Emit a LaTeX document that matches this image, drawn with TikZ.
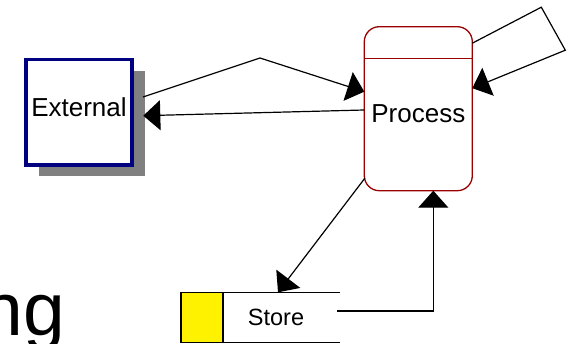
\documentclass[tikz,border=0pt]{standalone}
\usepackage{fontspec}
\setmainfont{Liberation Sans}
\usetikzlibrary{arrows.meta,calc,shadows}
\definecolor{ExtBlue}{HTML}{000080}
\definecolor{ProcRed}{HTML}{990000}
\definecolor{ShadowGray}{HTML}{808080}

\begin{document}
\begin{tikzpicture}[
  x=1pt, y=-1pt,
  flow/.style={draw=black,line width=1.2pt,-{Triangle[length=17pt,width=30pt]}},
  extbox/.style={draw=ExtBlue,line width=3.5pt,fill=white,minimum width=106pt,minimum height=105.5pt,
    inner sep=0pt,outer sep=0pt,font=\fontsize{26}{30}\selectfont,text depth=10pt,
    drop shadow={shadow xshift=13pt,shadow yshift=-11.5pt,fill=ShadowGray,opacity=1}},
  procbox/.style={draw=ProcRed,line width=1.3pt,rounded corners=15pt,minimum width=108pt,minimum height=164pt,
    inner sep=0pt,outer sep=0pt,font=\fontsize{26}{30}\selectfont,text height=28.6pt},
  storebox/.style={minimum width=159pt,minimum height=50.4pt,inner sep=0pt,outer sep=0pt,
    font=\fontsize{23.5}{28}\selectfont},
  storeline/.style={draw=black,line width=1.3pt},
  bigword/.style={inner sep=0pt,font=\fontsize{75}{80}\selectfont}
]
  \clip (0,0) rectangle (575,344);

  % nodes
  \node[extbox] (ext) at (79,112.25) {External};
  \node[procbox] (proc) at (418.3,108.7) {Process};
  \node[storebox] (store) at (260.5,317.5) {\hspace*{31pt}Store};
  \node[bigword,anchor=base east] (word) at (65,335) {ng};

  % process header line
  \draw[ProcRed,line width=1.3pt] ($(proc.north west)+(0,31.6)$) -- ($(proc.north east)+(0,31.6)$);

  % data store: yellow tag and open sides
  \filldraw[storeline,fill=yellow] (store.north west) rectangle ($(store.south west)+(42,0)$);
  \draw[storeline] (store.north west) -- (store.north east)
                   (store.south west) -- (store.south east);

  % flows
  \draw[flow] ($(ext.east)+(11,-15.25)$) -- ++(117,-39) -- ($(proc.west)+(0,-17)$);
  \draw[flow] ($(proc.west)+(0,1.3)$) -- ($(ext.east)+(11.3,3.45)$);
  \draw[flow] ($(proc.north east)+(0,16.5)$) -- ++(69,-36) -- ++(24,43) -- ($(proc.north east)+(0,61.5)$);
  \draw[flow] ($(proc.south west)+(0.7,-12.7)$) -- ($(store.north west)+(97,0)$);
  \draw[flow] ($(store.east)+(-2.7,-6.5)$) -| ([xshift=15pt]proc.south);
\end{tikzpicture}
\end{document}
